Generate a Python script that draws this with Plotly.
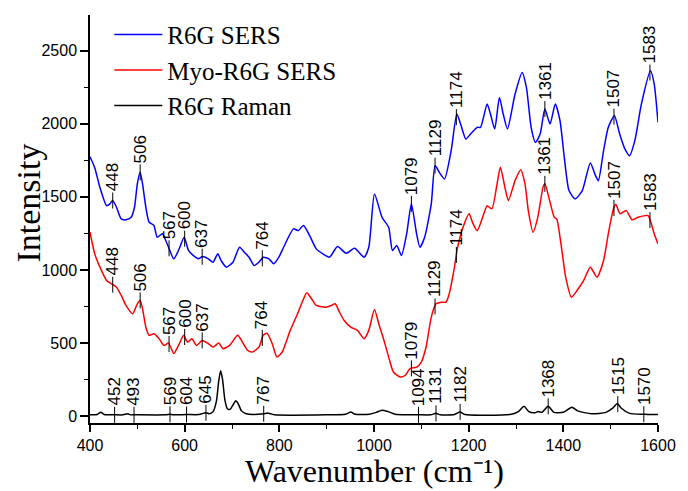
import numpy as np
import plotly.graph_objects as go

# ---- R6G SERS spectrum (wavenumber, intensity) ----
sers_x = [400, 410, 421, 435, 442, 448, 456, 466, 476, 487, 494, 500, 506, 511, 518, 525,
          535, 542, 553, 560, 566, 577, 587, 599, 608, 618, 629, 638, 650, 660, 670, 677,
          688, 702, 716, 726, 736, 747, 757, 766, 778, 788, 799, 809, 830, 840, 851, 864,
          878, 892, 906, 923, 941, 959, 979, 989, 1001, 1017, 1031, 1039, 1048, 1058, 1069,
          1079, 1090, 1097, 1107, 1121, 1129, 1138, 1149, 1163, 1175, 1183, 1194, 1204,
          1218, 1225, 1239, 1246, 1255, 1265, 1273, 1282, 1298, 1313, 1322, 1332, 1341,
          1351, 1361, 1372, 1383, 1393, 1402, 1412, 1425, 1440, 1457, 1468, 1474, 1485,
          1495, 1508, 1519, 1530, 1540, 1551, 1565, 1584, 1592, 1600]
sers_y = [1775, 1700, 1564, 1440, 1452, 1475, 1429, 1349, 1343, 1360, 1429, 1589, 1668, 1589,
          1429, 1326, 1304, 1224, 1247, 1201, 1155, 1076, 1133, 1224, 1133, 1099, 1076, 1092,
          1076, 1053, 1110, 1064, 1019, 1053, 1155, 1121, 1087, 1030, 1053, 1087, 1076, 1042,
          1087, 1155, 1281, 1269, 1304, 1235, 1144, 1110, 1087, 1160, 1114, 1148, 1087, 1155,
          1520, 1360, 1292, 1133, 1167, 1099, 1247, 1452, 1247, 1155, 1224, 1452, 1714, 1668,
          1623, 1816, 2067, 1999, 1896, 1930, 1976, 1976, 2136, 2067, 1965, 2181, 2067, 1965,
          2204, 2352, 2249, 1976, 1873, 1930, 2101, 1999, 2136, 2021, 1771, 1543, 1486, 1543,
          1732, 1645, 1611, 1816, 1976, 2056, 1930, 1828, 1782, 1885, 2136, 2363, 2272, 2010]

# ---- Myo-R6G SERS spectrum ----
myo_x = [400, 410, 421, 435, 445, 456, 466, 476, 490, 500, 506, 511, 518, 525, 535, 546,
         556, 566, 577, 587, 598, 606, 615, 625, 637, 650, 660, 672, 681, 695, 712, 722,
         733, 743, 757, 766, 774, 785, 795, 806, 823, 837, 847, 858, 868, 878, 899, 910,
         918, 927, 937, 951, 965, 979, 989, 1001, 1010, 1020, 1031, 1041, 1055, 1066, 1076,
         1090, 1100, 1110, 1121, 1131, 1142, 1152, 1159, 1170, 1176, 1187, 1201, 1208, 1218,
         1232, 1239, 1249, 1260, 1267, 1278, 1284, 1298, 1310, 1319, 1326, 1336, 1346, 1357,
         1361, 1371, 1381, 1386, 1395, 1405, 1417, 1429, 1443, 1457, 1471, 1485, 1495, 1506,
         1511, 1520, 1533, 1545, 1558, 1579, 1585, 1592, 1600]
myo_y = [1258, 1110, 1019, 928, 905, 882, 825, 757, 700, 768, 791, 734, 608, 552, 563, 529,
         483, 499, 427, 483, 552, 506, 529, 483, 517, 495, 472, 499, 461, 483, 552, 506,
         449, 438, 472, 552, 567, 495, 403, 438, 586, 688, 768, 844, 803, 757, 745, 757,
         768, 711, 654, 608, 586, 529, 586, 729, 632, 529, 403, 301, 267, 278, 324, 335,
         369, 472, 677, 768, 779, 779, 837, 1019, 1144, 1281, 1384, 1326, 1269, 1384, 1440,
         1418, 1589, 1702, 1543, 1475, 1611, 1686, 1589, 1406, 1258, 1360, 1565, 1589, 1475,
         1360, 1349, 1178, 950, 813, 859, 928, 1019, 950, 1064, 1247, 1418, 1447, 1384, 1406,
         1343, 1360, 1372, 1326, 1247, 1178]

# ---- R6G normal Raman spectrum ----
raman_x = [400, 415, 423, 430, 452, 470, 480, 485, 493, 560, 569, 575, 604, 630, 645, 652,
           660, 667, 672, 676, 680, 685, 690, 696, 702, 708, 713, 720, 730, 745, 767, 775,
           782, 790, 900, 940, 951, 960, 990, 1005, 1017, 1030, 1045, 1070, 1094, 1120, 1131,
           1140, 1170, 1182, 1192, 1290, 1305, 1317, 1327, 1340, 1347, 1355, 1368, 1380, 1400,
           1418, 1430, 1460, 1490, 1505, 1514, 1522, 1540, 1570, 1600]
raman_y = [8, 10, 25, 10, 8, 8, 15, 8, 8, 8, 12, 8, 10, 10, 22, 15,
           30, 100, 240, 310, 250, 110, 50, 45, 75, 105, 85, 35, 15, 10, 15, 20,
           15, 8, 8, 12, 28, 12, 12, 25, 40, 30, 12, 8, 8, 8, 18,
           8, 10, 28, 10, 12, 30, 66, 30, 22, 30, 25, 66, 25, 25,
           60, 35, 15, 25, 55, 85, 55, 18, 12, 10]

# ---- peak labels for each spectrum ----
sers_peaks = [448, 506, 567, 600, 637, 764, 1079, 1129, 1174, 1361, 1507, 1583]
myo_peaks = [448, 506, 567, 600, 637, 764, 1079, 1129, 1174, 1361, 1507, 1583]
raman_peaks = [452, 493, 569, 604, 645, 767, 1094, 1131, 1182, 1368, 1515, 1570]

# ---- axis settings ----
x_range = [400, 1600]
y_range = [-48, 2745]
x_ticks = [400, 600, 800, 1000, 1200, 1400, 1600]
y_ticks = [0, 500, 1000, 1500, 2000, 2500]

SERIF = "Liberation Serif, Times New Roman, serif"
SANS = "Liberation Sans, Arial, sans-serif"

fig = go.Figure()
series = [
    ("R6G SERS", sers_x, sers_y, "#0000FF", sers_peaks),
    ("Myo-R6G SERS", myo_x, myo_y, "#FF0000", myo_peaks),
    ("R6G Raman", raman_x, raman_y, "#000000", raman_peaks),
]

for name, xs, ys, color, _ in series:
    fig.add_trace(go.Scatter(
        x=xs, y=ys, mode="lines", name=name,
        line=dict(color=color, width=1.5, shape="spline", smoothing=0.6),
    ))

# short marker line through the curve plus a rotated wavenumber label above it
shapes = []
annotations = []
for name, xs, ys, color, peaks in series:
    for p in peaks:
        yv = float(np.interp(p, xs, ys))
        shapes.append(dict(
            type="line", xref="x", yref="y", x0=p, x1=p,
            ysizemode="pixel", yanchor=yv, y0=-8, y1=8,
            line=dict(color="black", width=1),
        ))
        annotations.append(dict(
            x=p, y=yv, xref="x", yref="y", text=str(p), showarrow=False,
            textangle=-90, xanchor="center", yanchor="bottom", yshift=7,
            font=dict(family=SANS, size=17, color="black"),
        ))

# axis titles
annotations.append(dict(
    x=0.5, y=-0.1186, xref="paper", yref="paper", text="Wavenumber (cm⁻¹)",
    showarrow=False, xanchor="center", yanchor="middle", borderpad=0,
    font=dict(family=SERIF, size=32, color="black"),
))
annotations.append(dict(
    x=-0.109, y=0.538, xref="paper", yref="paper", text="Intensity",
    showarrow=False, textangle=-90, xanchor="center", yanchor="middle",
    font=dict(family=SERIF, size=34, color="black"),
))

fig.update_layout(
    width=688, height=491,
    margin=dict(l=90, r=21, t=14, b=68),
    paper_bgcolor="white", plot_bgcolor="white",
    showlegend=True,
    legend=dict(
        x=0.034, y=1.008, xanchor="left", yanchor="top",
        bgcolor="rgba(0,0,0,0)", borderwidth=0,
        font=dict(family=SERIF, size=25, color="black"),
        itemwidth=48, tracegroupgap=0,
    ),
    shapes=shapes,
    annotations=annotations,
)

fig.update_xaxes(
    range=x_range, tickvals=x_ticks, ticks="outside", ticklen=7, tickwidth=1.5,
    tickcolor="black", showline=True, linecolor="black", linewidth=1.5,
    showgrid=False, zeroline=False, mirror=False,
    tickfont=dict(family=SANS, size=16, color="black"),
    minor=dict(dtick=100, tick0=400, ticks="outside", ticklen=4, tickwidth=1, tickcolor="black"),
)
fig.update_yaxes(
    range=y_range, tickvals=y_ticks, ticks="outside", ticklen=8, tickwidth=1.5,
    tickcolor="black", showline=True, linecolor="black", linewidth=1.5,
    showgrid=False, zeroline=False, mirror=False,
    tickfont=dict(family=SANS, size=16, color="black"),
    minor=dict(dtick=250, tick0=0, ticks="outside", ticklen=4, tickwidth=1, tickcolor="black"),
)

fig.write_html("out.html")
